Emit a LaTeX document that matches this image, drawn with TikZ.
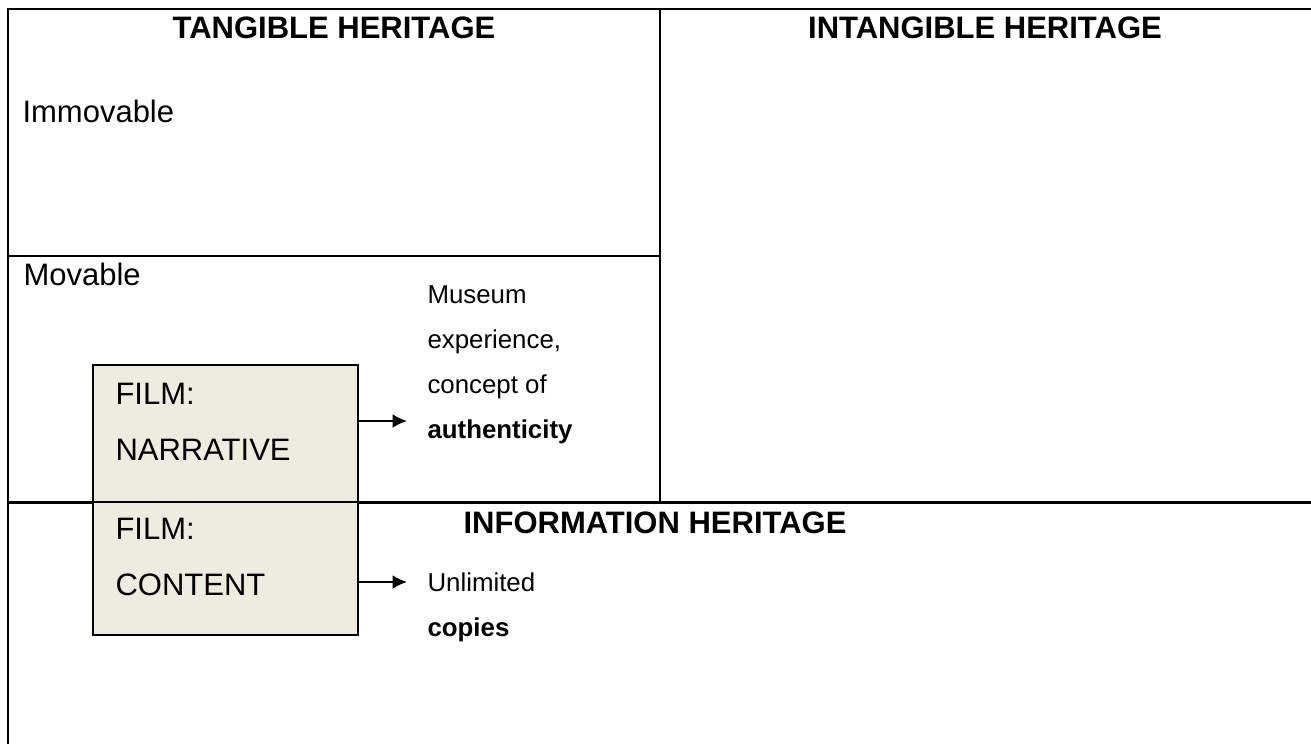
\documentclass[tikz,border=0pt]{standalone}
\usepackage{fontspec}
\setmainfont{Liberation Sans}
\usetikzlibrary{arrows.meta}
\definecolor{filmfill}{HTML}{EEECE1}
\tikzset{>={Latex[length=5.6pt,width=5.4pt]}}
\tikzset{
  rule/.style={line width=1.15pt},
  head/.style={font=\fontsize{12}{14}\selectfont\bfseries,inner sep=0pt},
  body/.style={font=\fontsize{12}{21.7}\selectfont,inner sep=0pt,align=left},
  note/.style={font=\fontsize{10}{17.4}\selectfont,inner sep=0pt,align=left},
  film/.style={draw,line width=0.8pt,fill=filmfill,inner sep=0pt,minimum width=102.6pt},
  link/.style={->,line width=0.8pt},
}

\begin{document}
\begin{tikzpicture}[x=0.3871pt,y=-0.3871pt]
  \useasboundingbox (0,0) rectangle (1311,744);

  % table grid
  \draw[rule] (1311,9) -- (8,9) -- (8,744);
  \draw[rule] (660,9) -- (660,502);
  \draw[rule] (8,256) -- (660,256);
  \draw[rule] (8,502) -- (1311,502);

  % headings
  \node[head] (tangible) at (334,28) {TANGIBLE HERITAGE};
  \node[head] (intangible) at (985,28) {INTANGIBLE HERITAGE};
  \node[head] (information) at (655,523) {INFORMATION HERITAGE};

  % tangible cells
  \node[body,anchor=base west] (immovable) at (22,122) {Immovable};
  \node[body,anchor=base west] (movable) at (23,285) {Movable};

  % film boxes
  \node[film,minimum height=53pt] (narrbox) at (225.5,433.5) {};
  \node[film,minimum height=51.5pt] (contbox) at (225.5,568.5) {};
  \node[body,anchor=north west] (narrtext) at (115,383) {FILM:\\NARRATIVE};
  \node[body,anchor=north west] (conttext) at (115,518) {FILM:\\CONTENT};

  % notes and arrows
  \node[note,anchor=north west] (museum) at (427,285) {Museum\\experience,\\concept of\\\textbf{authenticity}};
  \node[note,anchor=north west] (copies) at (427,572) {Unlimited\\\textbf{copies}};
  \coordinate (narrtip) at (407,421);
  \coordinate (conttip) at (407,582);
  \draw[link] (narrbox.east |- narrtip) -- (narrtip);
  \draw[link] (contbox.east |- conttip) -- (conttip);
\end{tikzpicture}
\end{document}
